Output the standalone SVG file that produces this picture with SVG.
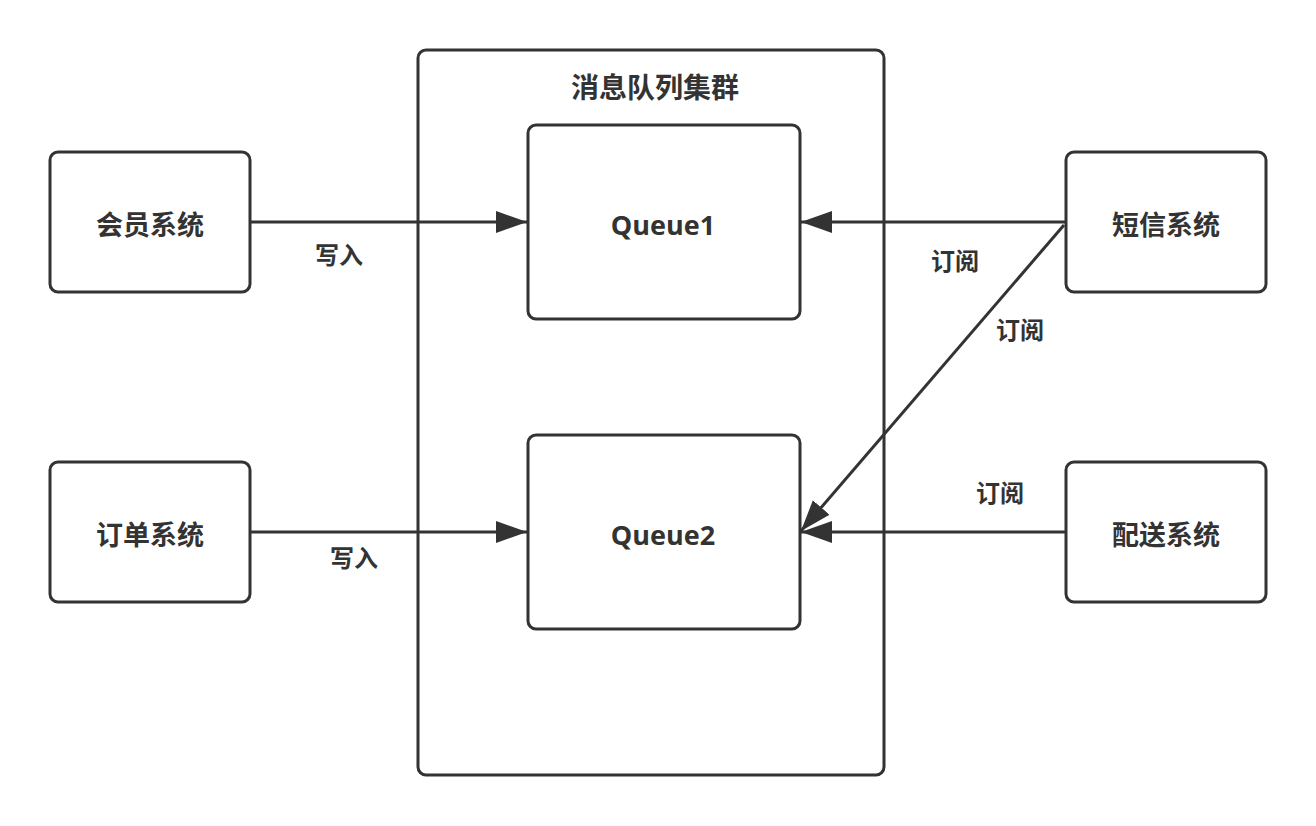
<svg xmlns="http://www.w3.org/2000/svg" width="1316" height="826" viewBox="0 0 1316 826">
<defs>
<style>
.box{fill:#fff;stroke:#333;stroke-width:3}
.t{font-family:"Open Sans","Noto Sans CJK SC",sans-serif;font-weight:bold;fill:#333;text-anchor:middle;dominant-baseline:central}
.big{font-size:27px}
.sm{font-size:24px}
.ln{stroke:#333;stroke-width:3;fill:none}
</style>
<marker id="ah" markerUnits="userSpaceOnUse" markerWidth="32" markerHeight="24" viewBox="0 0 32 24" refX="31" refY="12" orient="auto">
<path d="M0,1 L31,12 L0,23 Z" fill="#333"/>
</marker>
</defs>
<rect width="1316" height="826" fill="#fff"/>
<g id="cluster">
<rect class="box" x="418" y="50" width="466" height="725" rx="8"/>
<text class="t big" x="655" y="87" style="font-size:28px">消息队列集群</text>
</g>
<g id="queue1">
<rect class="box" x="528" y="125" width="272" height="194" rx="8"/>
<text class="t big" x="663" y="224">Queue1</text>
</g>
<g id="queue2">
<rect class="box" x="528" y="435" width="272" height="194" rx="8"/>
<text class="t big" x="663" y="534">Queue2</text>
</g>
<g id="member">
<rect class="box" x="50" y="152" width="200" height="140" rx="8"/>
<text class="t big" x="150" y="224">会员系统</text>
</g>
<g id="order">
<rect class="box" x="50" y="462" width="200" height="140" rx="8"/>
<text class="t big" x="150" y="534">订单系统</text>
</g>
<g id="sms">
<rect class="box" x="1066" y="152" width="200" height="140" rx="8"/>
<text class="t big" x="1166" y="224">短信系统</text>
</g>
<g id="delivery">
<rect class="box" x="1066" y="462" width="200" height="140" rx="8"/>
<text class="t big" x="1166" y="534">配送系统</text>
</g>
<g id="connectors">
<line class="ln" x1="250" y1="222" x2="527" y2="222" marker-end="url(#ah)"/>
<line class="ln" x1="250" y1="532" x2="527" y2="532" marker-end="url(#ah)"/>
<line class="ln" x1="1066" y1="222" x2="801" y2="222" marker-end="url(#ah)"/>
<line class="ln" x1="1064" y1="225" x2="801" y2="531" marker-end="url(#ah)"/>
<line class="ln" x1="1066" y1="532" x2="801" y2="532" marker-end="url(#ah)"/>
<text class="t sm" x="339" y="254">写入</text>
<text class="t sm" x="354" y="557">写入</text>
<text class="t sm" x="955" y="260">订阅</text>
<text class="t sm" x="1020" y="329">订阅</text>
<text class="t sm" x="1000" y="492">订阅</text>
</g>
</svg>
